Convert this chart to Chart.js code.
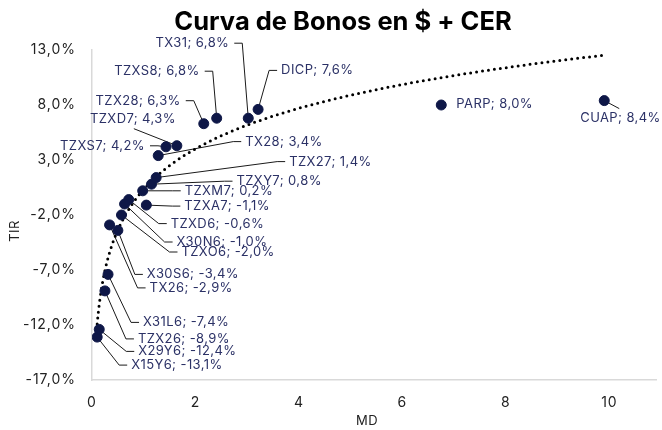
<!DOCTYPE html>
<html>
<head>
<meta charset="utf-8">
<script src="https://cdn.jsdelivr.net/npm/chart.js@4.4.1/dist/chart.umd.min.js"></script>
<style>
  html, body { margin: 0; padding: 0; background: #fff; }
  #wrap { width: 662px; height: 430px; position: relative; }
</style>
</head>
<body>
<div id="wrap"><canvas id="curva"></canvas></div>
<script>
// bonos CER: nombre, duration modificada (MD) y TIR (%)
const bonos = ["X15Y6", "X29Y6", "TZX26", "X31L6", "TX26", "X30S6", "TZXO6", "TZXD6", "X30N6",
  "TZXM7", "TZXA7", "TZXY7", "TZX27", "TX28", "TZXS7", "TZXD7", "TZX28", "TZXS8", "TX31",
  "DICP", "PARP", "CUAP"];
const md = [0.10, 0.14, 0.25, 0.31, 0.34, 0.50, 0.57, 0.71, 0.63,
  0.98, 1.05, 1.15, 1.24, 1.28, 1.43, 1.64, 2.16, 2.41, 3.02,
  3.21, 6.75, 9.90];
const tir = [-13.1, -12.4, -8.9, -7.4, -2.9, -3.4, -2.0, -0.6, -1.0,
  0.2, -1.1, 0.8, 1.4, 3.4, 4.2, 4.3, 6.3, 6.8, 6.8,
  7.6, 8.0, 8.4];
const xTicks = [0, 2, 4, 6, 8, 10];
const yTicks = [-17, -12, -7, -2, 3, 8, 13];

// label placement in px relative to the point: [dx, dy, side, leader]
// side "r" = text starts at dx, "l" = text ends at dx
// leader: undefined = default elbow, null = none, [x, y] = straight line to that offset
const labelPos = {
  X15Y6: [34, 28, "r"], X29Y6: [39, 22, "r"], TZX26: [33, 48, "r"], X31L6: [35, 48, "r"],
  TX26: [40, 63, "r"], X30S6: [29, 44, "r"], TZXO6: [60, 37, "r"], TZXD6: [42, 24, "r"],
  X30N6: [52, 38, "r"], TZXM7: [42, 0, "r"], TZXA7: [38, 1, "r"], TZXY7: [85, -3, "r"],
  TZX27: [133, -16, "r"], TX28: [87, -14, "r"], TZXS7: [-21, -1, "l"],
  TZXD7: [-1, -27, "l", [-43, -17]], TZX28: [-23, -23, "l"], TZXS8: [-17, -47, "l"],
  TX31: [-19, -75, "l"], DICP: [23, -39, "r"], PARP: [15, -1, "r", null],
  CUAP: [-24, 17, "r", [15, 8]]
};

const fmt = v => v.toFixed(1).replace(".", ",") + "%";

// logarithmic trendline (least squares on ln(MD)), like the spreadsheet one
const lx = md.map(Math.log);
const n = md.length;
const mx = lx.reduce((a, b) => a + b, 0) / n;
const my = tir.reduce((a, b) => a + b, 0) / n;
let sxy = 0, sxx = 0;
for (let i = 0; i < n; i++) {
  sxy += (lx[i] - mx) * (tir[i] - my);
  sxx += (lx[i] - mx) * (lx[i] - mx);
}
const slope = sxy / sxx;
const inter = my - slope * mx;
const lo = Math.log(Math.min(...md)), hi = Math.log(Math.max(...md));
const trend = [];
for (let k = 0; k <= 80; k++) {
  const x = Math.exp(lo + (hi - lo) * k / 80);
  trend.push({ x: x, y: inter + slope * Math.log(x) });
}

const labelsPlugin = {
  id: "labels",
  beforeDraw(chart) {
    // wider tracking for the tick labels
    chart.ctx.letterSpacing = "1px";
  },
  beforeDatasetsDraw(chart) {
    const ctx = chart.ctx;
    const pts = chart.getDatasetMeta(1).data;
    ctx.save();
    ctx.strokeStyle = "#1a1a1a";
    ctx.lineWidth = 1;
    bonos.forEach((b, i) => {
      const p = pts[i];
      const [dx, dy, side, lead] = labelPos[b];
      if (lead === null) return;
      ctx.beginPath();
      ctx.moveTo(p.x, p.y);
      if (lead) {
        ctx.lineTo(p.x + lead[0], p.y + lead[1]);
      } else {
        const ly = p.y + dy;
        const edge = p.x + dx;
        if (side === "r") {
          ctx.lineTo(edge - 12, ly);
          ctx.lineTo(edge - 4, ly);
        } else {
          ctx.lineTo(edge + 13, ly);
          ctx.lineTo(edge + 5, ly);
        }
      }
      ctx.stroke();
    });
    ctx.restore();
  },
  afterDatasetsDraw(chart) {
    const ctx = chart.ctx;
    const pts = chart.getDatasetMeta(1).data;
    ctx.save();
    ctx.font = "13px Inter";
    ctx.letterSpacing = "0.4px";
    ctx.fillStyle = "#2b3166";
    ctx.textBaseline = "middle";
    bonos.forEach((b, i) => {
      const p = pts[i];
      const [dx, dy, side] = labelPos[b];
      ctx.textAlign = side === "r" ? "left" : "right";
      ctx.fillText(b + "; " + fmt(tir[i]), p.x + dx, p.y + dy);
    });
    // title and axis titles
    ctx.fillStyle = "#000";
    ctx.textAlign = "center";
    ctx.letterSpacing = "0px";
    ctx.font = "bold 25.5px Inter";
    ctx.fillText("Curva de Bonos en $ + CER", 343, 22);
    ctx.font = "13px Inter";
    ctx.letterSpacing = "0.5px";
    ctx.fillStyle = "#222";
    ctx.fillText("MD", 367, 421);
    ctx.translate(15, 231);
    ctx.rotate(-Math.PI / 2);
    ctx.fillText("TIR", 0, 0);
    ctx.restore();
  }
};

new Chart(document.getElementById("curva"), {
  type: "scatter",
  data: {
    datasets: [
      {
        label: "Tendencia",
        type: "line",
        data: trend,
        showLine: true,
        borderColor: "#000",
        borderWidth: 3,
        borderDash: [0, 6],
        borderCapStyle: "round",
        pointRadius: 0,
        fill: false,
        tension: 0,
        order: 2
      },
      {
        label: "Bonos CER",
        data: md.map((x, i) => ({ x: x, y: tir[i] })),
        backgroundColor: "#0e1747",
        borderColor: "#0e1747",
        pointRadius: 5,
        pointHoverRadius: 5,
        order: 1
      }
    ]
  },
  options: {
    responsive: true,
    maintainAspectRatio: false,
    animation: false,
    layout: { padding: { top: 50, right: 0, bottom: 0, left: 0 } },
    plugins: {
      legend: { display: false },
      tooltip: { enabled: false },
      title: { display: false }
    },
    scales: {
      x: {
        type: "linear",
        min: 0,
        max: 10.9,
        afterBuildTicks: s => { s.ticks = xTicks.map(v => ({ value: v })); },
        afterFit: s => { s.height = 50; },
        grid: { display: false },
        border: { display: true, color: "#d9d9d9", width: 1.5 },
        ticks: { color: "#222", font: { family: "Inter", size: 14 }, padding: 6, maxRotation: 0 }
      },
      y: {
        min: -17,
        max: 13,
        afterBuildTicks: s => { s.ticks = yTicks.map(v => ({ value: v })); },
        afterFit: s => { s.width = 92; },
        grid: { display: false },
        border: { display: true, color: "#d9d9d9", width: 1.5 },
        ticks: { color: "#222", font: { family: "Inter", size: 14 }, padding: 8, callback: v => fmt(v) }
      }
    }
  },
  plugins: [labelsPlugin]
});
</script>
</body>
</html>
